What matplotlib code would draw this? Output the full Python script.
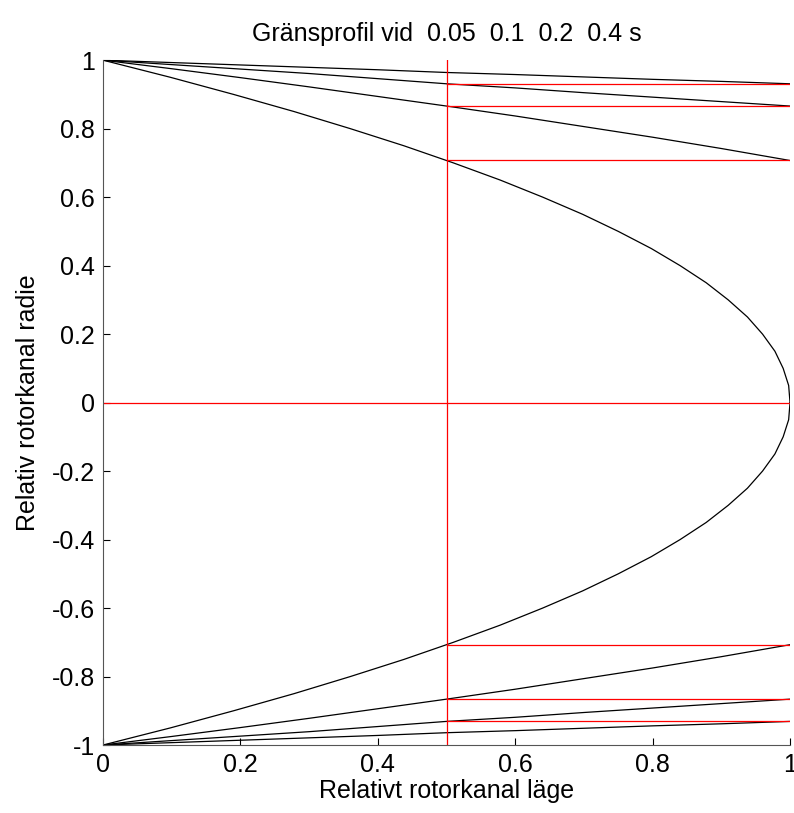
import matplotlib.pyplot as plt

plt.rcParams['font.family'] = ['Liberation Sans', 'DejaVu Sans']
plt.rcParams['axes.unicode_minus'] = False

# parabolic profile, read at y steps (upper half, mirrored below)
para_y = [1.0, 0.95, 0.9, 0.85, 0.8, 0.75, 0.7, 0.65, 0.6, 0.55, 0.5,
          0.45, 0.4, 0.35, 0.3, 0.25, 0.2, 0.15, 0.1, 0.05, 0.0]
para_x = [0.0, 0.098, 0.19, 0.278, 0.36, 0.438, 0.51, 0.578, 0.64, 0.698, 0.75,
          0.798, 0.84, 0.878, 0.91, 0.938, 0.96, 0.978, 0.99, 0.998, 1.0]

# flatter profiles, read at x steps
prof_x = [0.0, 0.1, 0.2, 0.3, 0.4, 0.5, 0.6, 0.7, 0.8, 0.9, 1.0]
prof_a = [1.0, 0.975, 0.949, 0.922, 0.894, 0.866, 0.837, 0.806, 0.775, 0.742, 0.707]
prof_b = [1.0, 0.987, 0.974, 0.961, 0.946, 0.931, 0.919, 0.905, 0.892, 0.879, 0.866]
prof_c = [1.0, 0.993, 0.986, 0.979, 0.972, 0.964, 0.958, 0.951, 0.944, 0.938, 0.931]

# red marker lines
mark_x = 0.5
mark_levels = [0.707, 0.866, 0.931]

fig = plt.figure(figsize=(7.94, 8.13), dpi=100)
ax = fig.add_axes([0.1297, 0.0836, 0.8653, 0.8424])

ax.plot(para_x, para_y, color='black', lw=0.9)
ax.plot(para_x, [-v for v in para_y], color='black', lw=0.9)
for prof in [prof_a, prof_b, prof_c]:
    ax.plot(prof_x, prof, color='black', lw=0.9)
    ax.plot(prof_x, [-v for v in prof], color='black', lw=0.9)

ax.plot([mark_x, mark_x], [-1, 1], color='red', lw=0.9)
ax.plot([0, 1], [0, 0], color='red', lw=0.9)
for lv in mark_levels:
    ax.plot([mark_x, 1], [lv, lv], color='red', lw=0.9)
    ax.plot([mark_x, 1], [-lv, -lv], color='red', lw=0.9)

ax.set_xlim(0, 1)
ax.set_ylim(-1, 1)
ax.set_xticks([0, 0.2, 0.4, 0.6, 0.8, 1])
ax.set_xticklabels(['0', '0.2', '0.4', '0.6', '0.8', '1'])
yt = [-1, -0.8, -0.6, -0.4, -0.2, 0, 0.2, 0.4, 0.6, 0.8, 1]
ax.set_yticks(yt)
ax.set_yticklabels(['-1', '-0.8', '-0.6', '-0.4', '-0.2', '0', '0.2', '0.4', '0.6', '0.8', '1'])
ax.tick_params(direction='in', length=5, labelsize=18, pad=6)
ax.spines['top'].set_visible(False)
ax.spines['right'].set_visible(False)
for sp in ['left', 'bottom']:
    ax.spines[sp].set_color('#555555')

ax.set_xlabel('Relativt rotorkanal läge', fontsize=18, labelpad=1)
ax.set_ylabel('Relativ rotorkanal radie', fontsize=18, labelpad=8)
ax.set_title('Gränsprofil vid  0.05  0.1  0.2  0.4 s', fontsize=18, pad=14)

fig.savefig('out.png', dpi=100)
